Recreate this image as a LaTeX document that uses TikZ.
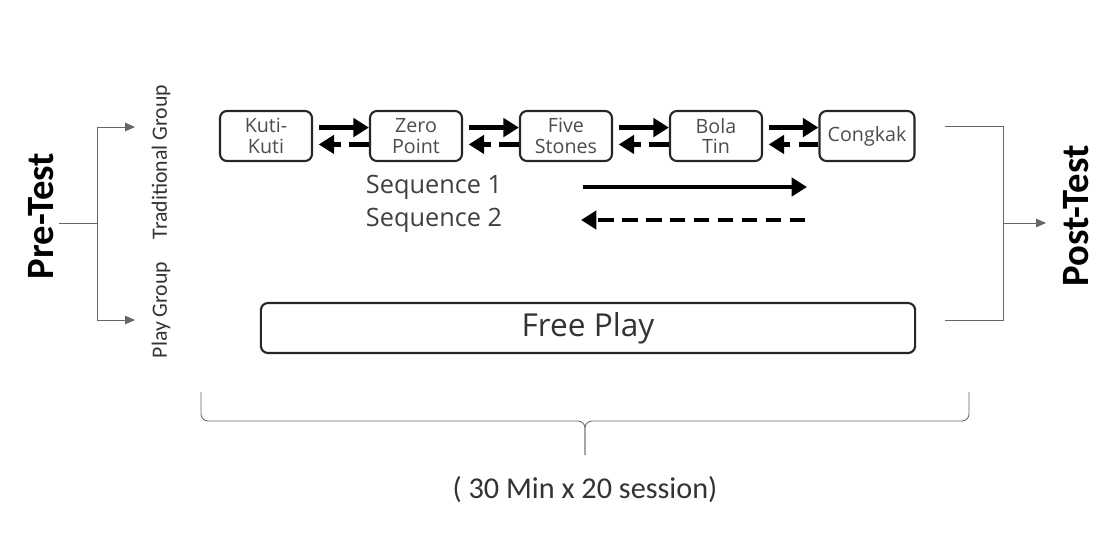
\documentclass[tikz,border=0pt]{standalone}
\usepackage{fontspec}
\setmainfont{Carlito}
\newfontfamily\boxfont{Open Sans}
\usetikzlibrary{arrows.meta}

\tikzset{
  game/.style={draw=black!85, line width=1.5pt, rounded corners=5pt, minimum width=2.3cm,
    minimum height=1.25cm, align=center, text=black!70, font=\boxfont\fontsize{14}{14.5}\selectfont},
  fwd/.style={line width=3.2pt, -{Triangle[length=11pt,width=13pt]}},
  bwd/.style={line width=3.2pt, dash pattern=on 14pt off 6pt, -{Triangle[length=11pt,width=13pt]}},
  thin/.style={black!60, line width=0.6pt},
  grouplbl/.style={rotate=90, text=black!80, font=\fontsize{15.5}{17}\selectfont},
  testlbl/.style={rotate=90, font=\bfseries\fontsize{27.5}{30}\selectfont}
}

\begin{document}
\begin{tikzpicture}[x=0.025cm, y=-0.025cm]
\useasboundingbox (0,0) rectangle (1110,554);

% pre test and the two groups
\node[testlbl] (pre) at (41,216) {Pre-Test};
\coordinate (fork) at (97,223);
\coordinate (tradin) at (135,127);
\coordinate (playin) at (135,320);
\draw[thin] (pre.south |- fork) -- (fork);
\draw[thin, -{Triangle[length=7pt,width=6pt]}] (fork) |- (tradin);
\draw[thin, -{Triangle[length=7pt,width=6pt]}] (fork) |- (playin);
\node[grouplbl] (trad) at (161,162) {Traditional Group};
\node[grouplbl] (play) at (161,310) {Play Group};

% traditional games
\node[game] (kuti) at (266,136) {Kuti-\\Kuti};
\node[game] (zero) at (416,136) {Zero\\Point};
\node[game] (five) at (566,136) {Five\\Stones};
\node[game] (bola) at (716,136) {Bola\\Tin};
\node[game, minimum width=2.375cm] (cong) at (867,136) {Congkak};
\foreach \a/\b in {kuti/zero, zero/five, five/bola, bola/cong} {
  \draw[fwd] ([xshift=4pt,yshift=6pt]\a.east) -- ([yshift=6pt]\b.west);
  \draw[bwd] ([yshift=-6pt]\b.west) -- ([xshift=4pt,yshift=-6pt]\a.east);
}

% legend
\node[anchor=west, text=black!75, font=\boxfont\fontsize{18}{19}\selectfont] (seq1) at (361,187) {Sequence 1};
\node[anchor=west, text=black!75, font=\boxfont\fontsize{18}{19}\selectfont] (seq2) at (361,220) {Sequence 2};
\coordinate (s1a) at (583,187);
\coordinate (s1b) at (807,187);
\coordinate (s2a) at (805,220);
\coordinate (s2b) at (581,220);
\draw[fwd] (s1a) -- (s1b);
\draw[bwd, dash pattern=on 11pt off 6pt] (s2a) -- (s2b);

% free play
\node[game, minimum width=16.35cm, minimum height=1.25cm, font=\boxfont\fontsize{22.5}{25}\selectfont,
  text=black!80] (free) at (588,328) {Free Play};

% post test
\coordinate (tout) at (945,126);
\coordinate (pout) at (945,320);
\coordinate (join) at (1003,223);
\coordinate (postin) at (1046,223);
\draw[thin] (tout) -| (join);
\draw[thin] (pout) -| (join);
\draw[thin, -{Triangle[length=7pt,width=6pt]}] (join) -- (postin);
\node[testlbl] (post) at (1076,216) {Post-Test};

% sessions brace
\coordinate (bl) at (201,392);
\coordinate (br) at (969,392);
\coordinate (tip) at (585,455);
\draw[thin, rounded corners=5pt] (bl) -- (bl |- 0,421) -- (585,421) -- (tip);
\draw[thin, rounded corners=5pt] (br) -- (br |- 0,421) -- (585,421) -- (tip);
\node[font=\fontsize{21.5}{24}\selectfont, text=black!80] (dose) at (585,490) {( 30 Min x 20 session)};
\end{tikzpicture}
\end{document}
